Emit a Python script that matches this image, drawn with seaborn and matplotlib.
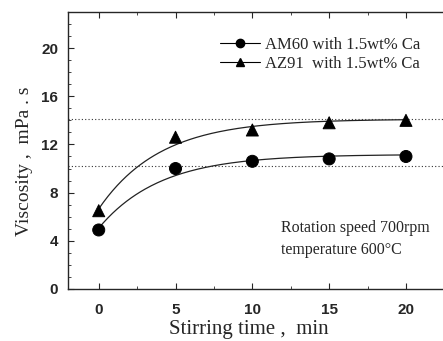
import numpy as np
import pandas as pd
import matplotlib
matplotlib.use("Agg")
import matplotlib.pyplot as plt
from matplotlib.lines import Line2D
from matplotlib.ticker import MultipleLocator
import seaborn as sns

time_min = [0, 5, 10, 15, 20]
am60 = [4.9, 10.0, 10.6, 10.8, 11.0]
az91 = [6.5, 12.6, 13.2, 13.8, 14.0]
labels = ["AM60 with 1.5wt% Ca", "AZ91  with 1.5wt% Ca"]
plateaus = [14.15, 10.2]
fit_tau = 4.0  # time constant of the fitted curves


def saturation_fit(x, y, t):
    # least squares fit of y = A - B*exp(-x/t)
    x = np.asarray(x, float)
    y = np.asarray(y, float)
    M = np.column_stack([np.ones_like(x), -np.exp(-x / t)])
    (a, b), *_ = np.linalg.lstsq(M, y, rcond=None)
    xs = np.linspace(x.min(), x.max(), 200)
    return xs, a - b * np.exp(-xs / t)


sns.set_style("ticks")
plt.rcParams["font.family"] = ["Liberation Sans", "DejaVu Sans"]

df = pd.DataFrame({"time": time_min * 2, "visc": am60 + az91,
                   "alloy": [labels[0]] * 5 + [labels[1]] * 5})

fig = plt.figure(figsize=(4.43, 3.41), dpi=100)
ax = fig.add_axes([0.1535, 0.1525, 0.86, 0.8125])

for series in (am60, az91):
    xs, ys = saturation_fit(time_min, series, fit_tau)
    sns.lineplot(x=xs, y=ys, ax=ax, color="#222222", lw=0.9)

sns.scatterplot(data=df, x="time", y="visc", style="alloy",
                markers={labels[0]: "o", labels[1]: "^"}, color="black",
                s=75, edgecolor="black", legend=False, ax=ax, zorder=3)

for p in plateaus:
    ax.axhline(p, color="#333333", ls=(0, (1, 2)), lw=0.8)

ax.set_xlim(-2, 22.8)
ax.set_ylim(0, 23)
ax.xaxis.set_major_locator(MultipleLocator(5))
ax.xaxis.set_minor_locator(MultipleLocator(2.5))
ax.yaxis.set_major_locator(MultipleLocator(4))
ax.yaxis.set_minor_locator(MultipleLocator(1))
ax.tick_params(which="both", direction="in", top=True, right=False)
ax.tick_params(which="major", length=4, width=0.8, labelsize=11, pad=7)
ax.tick_params(axis="x", which="major", pad=10)
ax.tick_params(which="minor", length=2.5, width=0.6)
for lab in ax.get_xticklabels() + ax.get_yticklabels():
    lab.set_fontweight("bold")
for s in ax.spines.values():
    s.set_linewidth(1.0)
ax.spines["right"].set_visible(False)

serif = ["Liberation Serif", "DejaVu Serif"]
ax.set_xlabel("Stirring time ,  min", family=serif, fontsize=15)
ax.set_ylabel("Viscosity ,  mPa . s", family=serif, fontsize=14)
ax.xaxis.set_label_coords(0.475, -0.112)
ax.yaxis.set_label_coords(-0.093, 0.46)

handles = [Line2D([], [], color="black", lw=0.8, marker="o", markersize=6),
           Line2D([], [], color="black", lw=0.8, marker="^", markersize=6)]
leg = ax.legend(handles, labels, loc="upper right", bbox_to_anchor=(0.965, 0.965),
                frameon=False, prop={"family": serif, "size": 12},
                handlelength=2.4, handletextpad=0.3, labelspacing=0.2)

ax.text(0.56, 0.205, "Rotation speed 700rpm", transform=ax.transAxes,
        family=serif, fontsize=11.5)
ax.text(0.56, 0.125, "temperature 600°C", transform=ax.transAxes,
        family=serif, fontsize=11.5)

fig.savefig("out.png", dpi=100)
